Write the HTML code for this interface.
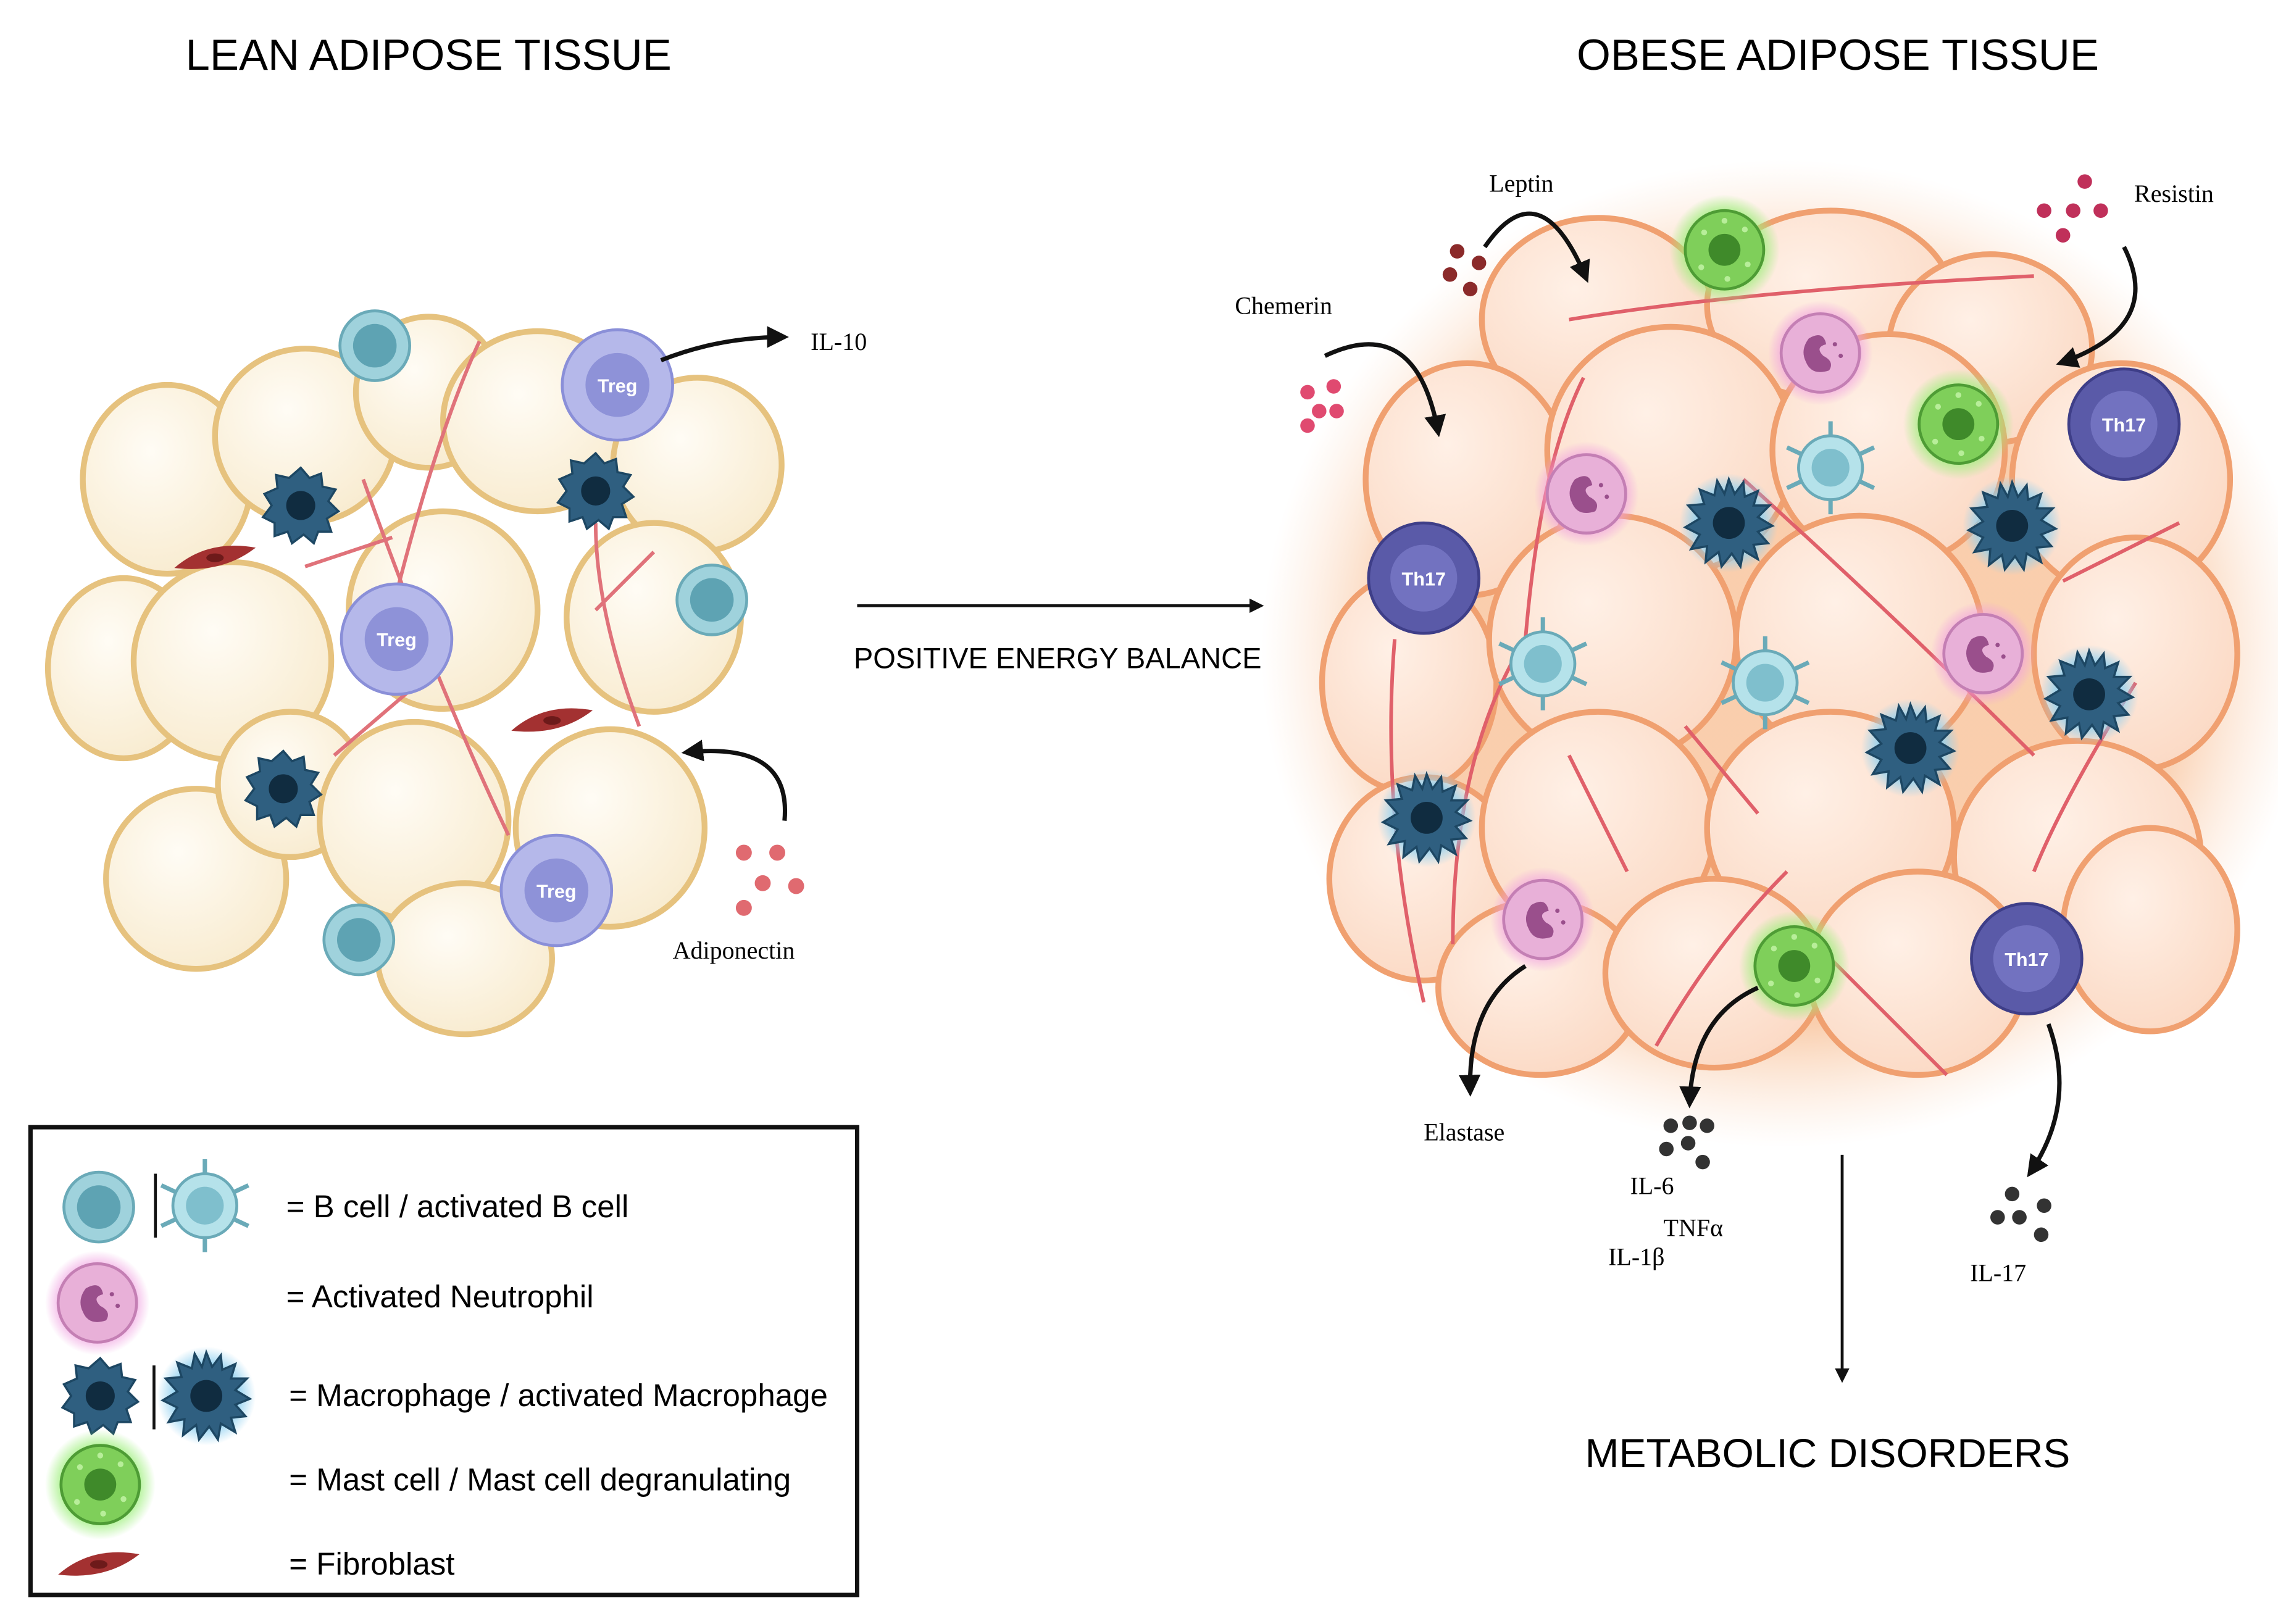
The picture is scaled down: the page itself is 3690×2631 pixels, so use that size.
<!DOCTYPE html>
<html><head><meta charset="utf-8"><style>
html,body{margin:0;padding:0;background:#fff;}
svg{display:block;}
text{font-family:"Liberation Sans",sans-serif;}
.serif{font-family:"Liberation Serif",serif;}
</style></head><body>
<svg width="3690" height="2631" viewBox="0 0 1568 1118" preserveAspectRatio="none" xmlns="http://www.w3.org/2000/svg">
<defs>
<radialGradient id="glow" cx="50%" cy="50%" r="50%">
<stop offset="0.75" stop-color="#f7b98a" stop-opacity="0.7"/><stop offset="1" stop-color="#fbd7bd" stop-opacity="0"/></radialGradient>
<radialGradient id="lean" cx="40%" cy="35%" r="70%"><stop offset="0" stop-color="#fffcf5"/><stop offset="1" stop-color="#f8ebcf"/></radialGradient>
<radialGradient id="ob" cx="40%" cy="35%" r="70%"><stop offset="0" stop-color="#fff0e6"/><stop offset="1" stop-color="#fbd9c4"/></radialGradient>
<radialGradient id="pg" r="50%"><stop offset="0.6" stop-color="#f0a0e0"/><stop offset="1" stop-color="#f0a0e0" stop-opacity="0"/></radialGradient>
<radialGradient id="gg" r="50%"><stop offset="0.6" stop-color="#9cef7a"/><stop offset="1" stop-color="#9cef7a" stop-opacity="0"/></radialGradient>
<radialGradient id="bg" r="50%"><stop offset="0.6" stop-color="#8fd0f0"/><stop offset="1" stop-color="#8fd0f0" stop-opacity="0"/></radialGradient>
<marker id="ah" viewBox="0 0 10 10" refX="8" refY="5" markerWidth="5" markerHeight="5" orient="auto"><path d="M0,0L10,5L0,10z" fill="#111"/></marker>
<g id="bcell"><circle r="24" fill="#9fd2dc" stroke="#6aaab8" stroke-width="2"/><circle r="15" fill="#5ea3b3"/></g>
<g id="mac"><polygon points="0,-26 6,-19 14,-22 15,-13 24,-11 19,-3 26,4 18,9 21,18 12,18 9,26 2,20 -6,26 -9,18 -18,21 -18,12 -26,8 -20,0 -25,-8 -16,-12 -17,-21 -8,-19" fill="#2f5f80" stroke="#1d4763" stroke-width="1.5"/><circle r="10" fill="#102c40"/></g>
<g id="amac"><circle r="34" fill="url(#bg)"/><polygon points="0,-30 4,-20 10,-28 11,-18 20,-22 17,-12 28,-12 20,-4 30,2 20,6 27,14 17,15 20,25 10,19 8,30 2,21 -5,30 -7,20 -16,27 -15,16 -26,18 -20,8 -30,3 -20,-3 -28,-12 -17,-13 -20,-23 -10,-19 -8,-29 -3,-20" fill="#2f5f80" stroke="#1d4763" stroke-width="1.5"/><circle r="11" fill="#102c40"/></g>
<g id="abcell"><g stroke="#6aaab8" stroke-width="3"><line x1="0" y1="0" x2="0" y2="-32"/><line x1="0" y1="0" x2="0" y2="32"/><line x1="0" y1="0" x2="30" y2="-14"/><line x1="0" y1="0" x2="-30" y2="-14"/><line x1="0" y1="0" x2="30" y2="14"/><line x1="0" y1="0" x2="-30" y2="14"/></g><circle r="22" fill="#b5e2ea" stroke="#6aaab8" stroke-width="2"/><circle r="13" fill="#7fbfcd"/></g>
<g id="neut"><circle r="36" fill="url(#pg)"/><circle r="27" fill="#e8b0d8" stroke="#c47fb4" stroke-width="2"/><path d="M-8,-10 q10,-6 12,4 q-8,2 -2,8 q8,4 4,10 q-12,4 -16,-6 q-4,-8 2,-16z" fill="#9a4f8c"/><circle cx="10" cy="-6" r="1.5" fill="#9a4f8c"/><circle cx="14" cy="2" r="1.5" fill="#9a4f8c"/></g>
<g id="mast"><circle r="38" fill="url(#gg)"/><circle r="27" fill="#7fcf5a" stroke="#4e9c35" stroke-width="2"/><circle r="11" fill="#3f8a2a"/><g fill="#b8ee9a"><circle cx="-14" cy="-12" r="2"/><circle cx="14" cy="-14" r="2"/><circle cx="16" cy="10" r="2"/><circle cx="-16" cy="12" r="2"/><circle cx="0" cy="-20" r="2"/><circle cx="2" cy="20" r="2"/></g></g>
<g id="treg"><circle r="38" fill="#b5b8ea" stroke="#8a8fd8" stroke-width="2"/><circle r="22" fill="#8e92d8"/><text y="5" text-anchor="middle" font-size="13" font-weight="bold" fill="#fff">Treg</text></g>
<g id="th17"><circle r="38" fill="#5a5aa8" stroke="#3e3e88" stroke-width="2"/><circle r="23" fill="#7272c0"/><text y="5" text-anchor="middle" font-size="13" font-weight="bold" fill="#fff">Th17</text></g>
<g id="fib"><path d="M-28,6 Q-5,-14 28,-8 Q5,10 -28,6z" fill="#a33131"/><ellipse cx="0" cy="-1" rx="6" ry="3" fill="#6d1a1a"/></g>
</defs>

<text x="295" y="48" text-anchor="middle" font-size="30">LEAN ADIPOSE TISSUE</text>
<text x="1265" y="48" text-anchor="middle" font-size="30">OBESE ADIPOSE TISSUE</text>

<!-- lean tissue -->
<g fill="url(#lean)" stroke="#e6c27e" stroke-width="4">
<ellipse cx="115" cy="330" rx="58" ry="65"/><ellipse cx="210" cy="300" rx="62" ry="60"/><ellipse cx="295" cy="270" rx="50" ry="52"/>
<ellipse cx="370" cy="290" rx="65" ry="62"/><ellipse cx="480" cy="320" rx="58" ry="60"/><ellipse cx="85" cy="460" rx="52" ry="62"/>
<ellipse cx="160" cy="455" rx="68" ry="68"/><ellipse cx="305" cy="420" rx="65" ry="68"/><ellipse cx="450" cy="425" rx="60" ry="65"/>
<ellipse cx="135" cy="605" rx="62" ry="62"/><ellipse cx="200" cy="540" rx="50" ry="50"/><ellipse cx="285" cy="565" rx="65" ry="68"/>
<ellipse cx="420" cy="570" rx="65" ry="68"/><ellipse cx="320" cy="660" rx="60" ry="52"/>
</g>
<g stroke="#e0727a" stroke-width="2.5" fill="none">
<path d="M350,575 Q300,470 250,330 M330,235 Q300,300 270,420 M300,460 L230,520 M440,500 Q410,420 410,360 M410,420 L450,380 M270,370 L210,390"/>
</g>
<use href="#bcell" x="258" y="238"/><use href="#bcell" x="490" y="413"/><use href="#bcell" x="247" y="647"/>
<use href="#mac" x="207" y="348"/><use href="#mac" x="410" y="338"/><use href="#mac" x="195" y="543"/>
<use href="#treg" x="425" y="265"/><use href="#treg" x="273" y="440"/><use href="#treg" x="383" y="613"/>
<use href="#fib" x="148" y="385"/><use href="#fib" x="380" y="497"/>
<path d="M455,248 Q495,232 540,232" stroke="#111" stroke-width="3" fill="none" marker-end="url(#ah)"/>
<text x="558" y="241" class="serif" font-size="17">IL-10</text>
<path d="M540,565 Q545,510 472,518" stroke="#111" stroke-width="3" fill="none" marker-end="url(#ah)"/>
<g fill="#e06a70"><circle cx="512" cy="587" r="5.5"/><circle cx="535" cy="587" r="5.5"/><circle cx="525" cy="608" r="5.5"/><circle cx="548" cy="610" r="5.5"/><circle cx="512" cy="625" r="5.5"/></g>
<text x="463" y="660" class="serif" font-size="17">Adiponectin</text>

<!-- center arrow -->
<line x1="590" y1="417" x2="868" y2="417" stroke="#111" stroke-width="2" marker-end="url(#ah)"/>
<text x="728" y="460" text-anchor="middle" font-size="20">POSITIVE ENERGY BALANCE</text>

<!-- obese tissue -->
<ellipse cx="1228" cy="450" rx="360" ry="340" fill="url(#glow)"/>
<g fill="url(#ob)" stroke="#f0a070" stroke-width="4">
<ellipse cx="1100" cy="220" rx="80" ry="70"/><ellipse cx="1260" cy="210" rx="85" ry="65"/><ellipse cx="1370" cy="240" rx="70" ry="65"/>
<ellipse cx="1010" cy="330" rx="70" ry="80"/><ellipse cx="1150" cy="310" rx="85" ry="85"/><ellipse cx="1300" cy="310" rx="80" ry="80"/>
<ellipse cx="1460" cy="330" rx="75" ry="80"/><ellipse cx="970" cy="470" rx="60" ry="75"/><ellipse cx="1110" cy="440" rx="85" ry="85"/>
<ellipse cx="1280" cy="440" rx="85" ry="85"/><ellipse cx="1470" cy="450" rx="70" ry="80"/><ellipse cx="980" cy="605" rx="65" ry="70"/>
<ellipse cx="1100" cy="570" rx="80" ry="80"/><ellipse cx="1260" cy="570" rx="85" ry="80"/><ellipse cx="1430" cy="590" rx="85" ry="80"/>
<ellipse cx="1060" cy="680" rx="70" ry="60"/><ellipse cx="1180" cy="670" rx="75" ry="65"/><ellipse cx="1320" cy="670" rx="75" ry="70"/><ellipse cx="1480" cy="640" rx="60" ry="70"/>
</g>
<g stroke="#e0606a" stroke-width="2.5" fill="none">
<path d="M1080,220 Q1200,200 1400,190 M1090,260 Q1060,320 1050,440 M1050,440 Q1000,520 1000,650 M960,440 Q950,560 980,690"/>
<path d="M1200,330 Q1300,420 1400,520 M1230,600 Q1180,650 1140,720 M1240,640 Q1300,700 1340,740 M1470,470 Q1420,550 1400,600 M1420,400 L1500,360 M1160,500 L1210,560 M1120,600 L1080,520"/>
</g>
<use href="#mast" x="1187" y="172"/><use href="#mast" x="1348" y="292"/><use href="#mast" x="1235" y="665"/>
<use href="#neut" x="1253" y="243"/><use href="#neut" x="1092" y="340"/><use href="#neut" x="1365" y="450"/><use href="#neut" x="1062" y="633"/>
<use href="#abcell" x="1260" y="322"/><use href="#abcell" x="1062" y="457"/><use href="#abcell" x="1215" y="470"/>
<use href="#amac" x="1190" y="360"/><use href="#amac" x="1385" y="362"/><use href="#amac" x="1438" y="478"/><use href="#amac" x="1315" y="515"/><use href="#amac" x="982" y="563"/>
<use href="#th17" x="1462" y="292"/><use href="#th17" x="980" y="398"/><use href="#th17" x="1395" y="660"/>

<text x="1025" y="132" class="serif" font-size="17">Leptin</text>
<g fill="#8b2a2a"><circle cx="1003" cy="173" r="5"/><circle cx="1018" cy="181" r="5"/><circle cx="998" cy="189" r="5"/><circle cx="1012" cy="199" r="5"/></g>
<path d="M1022,170 Q1060,115 1092,192" stroke="#111" stroke-width="3" fill="none" marker-end="url(#ah)"/>
<text x="850" y="216" class="serif" font-size="17">Chemerin</text>
<g fill="#e04a70"><circle cx="900" cy="270" r="5"/><circle cx="918" cy="266" r="5"/><circle cx="908" cy="283" r="5"/><circle cx="920" cy="283" r="5"/><circle cx="900" cy="293" r="5"/></g>
<path d="M912,245 Q975,215 990,298" stroke="#111" stroke-width="3" fill="none" marker-end="url(#ah)"/>
<text x="1469" y="139" class="serif" font-size="17">Resistin</text>
<g fill="#c0305a"><circle cx="1435" cy="125" r="5"/><circle cx="1407" cy="145" r="5"/><circle cx="1427" cy="145" r="5"/><circle cx="1446" cy="145" r="5"/><circle cx="1420" cy="162" r="5"/></g>
<path d="M1462,170 Q1490,225 1418,250" stroke="#111" stroke-width="3" fill="none" marker-end="url(#ah)"/>

<path d="M1050,665 Q1010,690 1012,752" stroke="#111" stroke-width="3" fill="none" marker-end="url(#ah)"/>
<text x="980" y="785" class="serif" font-size="17">Elastase</text>
<path d="M1210,680 Q1165,700 1163,760" stroke="#111" stroke-width="3" fill="none" marker-end="url(#ah)"/>
<g fill="#333"><circle cx="1150" cy="775" r="5"/><circle cx="1163" cy="773" r="5"/><circle cx="1175" cy="775" r="5"/><circle cx="1147" cy="791" r="5"/><circle cx="1162" cy="787" r="5"/><circle cx="1172" cy="800" r="5"/></g>
<text x="1122" y="822" class="serif" font-size="17">IL-6</text>
<text x="1145" y="851" class="serif" font-size="17">TNFα</text>
<text x="1107" y="871" class="serif" font-size="17">IL-1β</text>
<path d="M1410,705 Q1430,760 1397,808" stroke="#111" stroke-width="3" fill="none" marker-end="url(#ah)"/>
<g fill="#333"><circle cx="1385" cy="822" r="5"/><circle cx="1375" cy="838" r="5"/><circle cx="1390" cy="838" r="5"/><circle cx="1407" cy="830" r="5"/><circle cx="1405" cy="850" r="5"/></g>
<text x="1356" y="882" class="serif" font-size="17">IL-17</text>

<line x1="1268" y1="795" x2="1268" y2="950" stroke="#111" stroke-width="2" marker-end="url(#ah)"/>
<text x="1258" y="1010" text-anchor="middle" font-size="28">METABOLIC DISORDERS</text>

<!-- legend -->
<rect x="21" y="776" width="569" height="322" fill="#fff" stroke="#111" stroke-width="3"/>
<use href="#bcell" x="68" y="831"/>
<line x1="107" y1="808" x2="107" y2="852" stroke="#111" stroke-width="2"/>
<use href="#abcell" x="141" y="830"/>
<text x="197" y="838" font-size="21.7">= B cell / activated B cell</text>
<use href="#neut" x="67" y="897"/>
<text x="197" y="900" font-size="21.7">= Activated Neutrophil</text>
<use href="#mac" x="69" y="961"/>
<line x1="106" y1="940" x2="106" y2="984" stroke="#111" stroke-width="2"/>
<use href="#amac" x="142" y="961"/>
<text x="199" y="968" font-size="21.7">= Macrophage / activated Macrophage</text>
<use href="#mast" x="69" y="1022"/>
<text x="199" y="1026" font-size="21.7">= Mast cell / Mast cell degranulating</text>
<use href="#fib" x="68" y="1078"/>
<text x="199" y="1084" font-size="21.7">= Fibroblast</text>
</svg>
</body></html>
